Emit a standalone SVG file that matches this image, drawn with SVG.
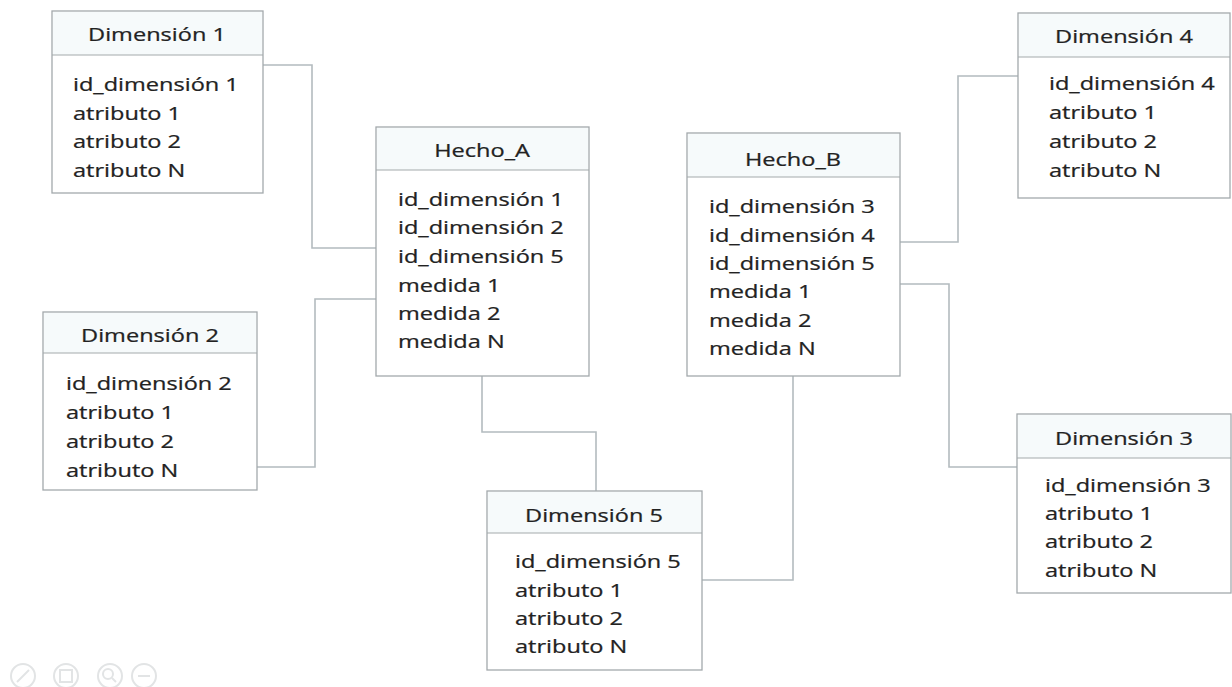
<svg xmlns="http://www.w3.org/2000/svg" width="1232" height="687" viewBox="0 0 1232 687">
  <style>
    .box { fill: #ffffff; stroke: #a3a9ac; stroke-width: 1.3; }
    .head { fill: #f6fafb; stroke: none; }
    .sep { stroke: #a3a9ac; stroke-width: 1.2; }
    .t { font-family: "Open Sans", "Liberation Sans", sans-serif; font-size: 19px; fill: #222222; stroke: #222222; stroke-width: 0.25; }
    .c { text-anchor: middle; }
    .link { fill: none; stroke: #b3bbbf; stroke-width: 1.6; }
    .ico { fill: none; stroke: #e2e4e5; stroke-width: 2; }
  </style>
  <rect width="1232" height="687" fill="#ffffff"/>

  <!-- connectors -->
  <g id="connectors">
    <polyline class="link" points="263,65 312,65 312,248 376,248"/>
    <polyline class="link" points="257,467 315,467 315,299 376,299"/>
    <polyline class="link" points="482,376 482,432 596,432 596,491"/>
    <polyline class="link" points="793,376 793,580 702,580"/>
    <polyline class="link" points="900,242 958,242 958,76 1018,76"/>
    <polyline class="link" points="900,284 949,284 949,467 1017,467"/>
  </g>

  <!-- Dimensión 1 -->
  <g id="dim1">
    <rect class="box" x="52" y="11" width="211" height="182"/>
    <rect class="head" x="53" y="12" width="209" height="43"/>
    <line class="sep" x1="52" y1="55" x2="263" y2="55"/>
    <g transform="translate(157 0) scale(1.24 1)"><text class="t c" x="0" y="41">Dimensión 1</text></g>
    <g transform="translate(73 0) scale(1.24 1)">
      <text class="t" x="0" y="91">id_dimensión 1</text>
      <text class="t" x="0" y="120">atributo 1</text>
      <text class="t" x="0" y="148">atributo 2</text>
      <text class="t" x="0" y="177">atributo N</text>
    </g>
  </g>

  <!-- Dimensión 2 -->
  <g id="dim2">
    <rect class="box" x="43" y="312" width="214" height="178"/>
    <rect class="head" x="44" y="313" width="212" height="40"/>
    <line class="sep" x1="43" y1="353" x2="257" y2="353"/>
    <g transform="translate(150 0) scale(1.24 1)"><text class="t c" x="0" y="342">Dimensión 2</text></g>
    <g transform="translate(66 0) scale(1.24 1)">
      <text class="t" x="0" y="390">id_dimensión 2</text>
      <text class="t" x="0" y="419">atributo 1</text>
      <text class="t" x="0" y="448">atributo 2</text>
      <text class="t" x="0" y="477">atributo N</text>
    </g>
  </g>

  <!-- Hecho_A -->
  <g id="hecho_a">
    <rect class="box" x="376" y="127" width="213" height="249"/>
    <rect class="head" x="377" y="128" width="211" height="42"/>
    <line class="sep" x1="376" y1="170" x2="589" y2="170"/>
    <g transform="translate(482 0) scale(1.24 1)"><text class="t c" x="0" y="157">Hecho_A</text></g>
    <g transform="translate(398 0) scale(1.24 1)">
      <text class="t" x="0" y="206">id_dimensión 1</text>
      <text class="t" x="0" y="234">id_dimensión 2</text>
      <text class="t" x="0" y="263">id_dimensión 5</text>
      <text class="t" x="0" y="292">medida 1</text>
      <text class="t" x="0" y="320">medida 2</text>
      <text class="t" x="0" y="348">medida N</text>
    </g>
  </g>

  <!-- Hecho_B -->
  <g id="hecho_b">
    <rect class="box" x="687" y="133" width="213" height="243"/>
    <rect class="head" x="688" y="134" width="211" height="43"/>
    <line class="sep" x1="687" y1="177" x2="900" y2="177"/>
    <g transform="translate(793 0) scale(1.24 1)"><text class="t c" x="0" y="166">Hecho_B</text></g>
    <g transform="translate(709 0) scale(1.24 1)">
      <text class="t" x="0" y="213">id_dimensión 3</text>
      <text class="t" x="0" y="242">id_dimensión 4</text>
      <text class="t" x="0" y="270">id_dimensión 5</text>
      <text class="t" x="0" y="298">medida 1</text>
      <text class="t" x="0" y="327">medida 2</text>
      <text class="t" x="0" y="355">medida N</text>
    </g>
  </g>

  <!-- Dimensión 4 -->
  <g id="dim4">
    <rect class="box" x="1018" y="13" width="212" height="185"/>
    <rect class="head" x="1019" y="14" width="210" height="43"/>
    <line class="sep" x1="1018" y1="57" x2="1230" y2="57"/>
    <g transform="translate(1124 0) scale(1.24 1)"><text class="t c" x="0" y="43">Dimensión 4</text></g>
    <g transform="translate(1049 0) scale(1.24 1)">
      <text class="t" x="0" y="90">id_dimensión 4</text>
      <text class="t" x="0" y="119">atributo 1</text>
      <text class="t" x="0" y="148">atributo 2</text>
      <text class="t" x="0" y="177">atributo N</text>
    </g>
  </g>

  <!-- Dimensión 3 -->
  <g id="dim3">
    <rect class="box" x="1017" y="414" width="214" height="179"/>
    <rect class="head" x="1018" y="415" width="212" height="43"/>
    <line class="sep" x1="1017" y1="458" x2="1231" y2="458"/>
    <g transform="translate(1124 0) scale(1.24 1)"><text class="t c" x="0" y="445">Dimensión 3</text></g>
    <g transform="translate(1045 0) scale(1.24 1)">
      <text class="t" x="0" y="492">id_dimensión 3</text>
      <text class="t" x="0" y="520">atributo 1</text>
      <text class="t" x="0" y="548">atributo 2</text>
      <text class="t" x="0" y="577">atributo N</text>
    </g>
  </g>

  <!-- Dimensión 5 -->
  <g id="dim5">
    <rect class="box" x="487" y="491" width="215" height="179"/>
    <rect class="head" x="488" y="492" width="213" height="41"/>
    <line class="sep" x1="487" y1="533" x2="702" y2="533"/>
    <g transform="translate(594 0) scale(1.24 1)"><text class="t c" x="0" y="522">Dimensión 5</text></g>
    <g transform="translate(515 0) scale(1.24 1)">
      <text class="t" x="0" y="568">id_dimensión 5</text>
      <text class="t" x="0" y="597">atributo 1</text>
      <text class="t" x="0" y="625">atributo 2</text>
      <text class="t" x="0" y="653">atributo N</text>
    </g>
  </g>

  <!-- faint viewer controls, bottom left -->
  <g id="controls">
    <circle class="ico" cx="23" cy="676" r="12"/>
    <line class="ico" x1="17" y1="682" x2="29" y2="670"/>
    <circle class="ico" cx="66" cy="676" r="12"/>
    <rect class="ico" x="60" y="670" width="12" height="12"/>
    <circle class="ico" cx="110" cy="676" r="12"/>
    <circle class="ico" cx="108" cy="674" r="5"/>
    <line class="ico" x1="112" y1="678" x2="116" y2="682"/>
    <circle class="ico" cx="144" cy="676" r="12"/>
    <line class="ico" x1="138" y1="676" x2="150" y2="676"/>
  </g>
</svg>
